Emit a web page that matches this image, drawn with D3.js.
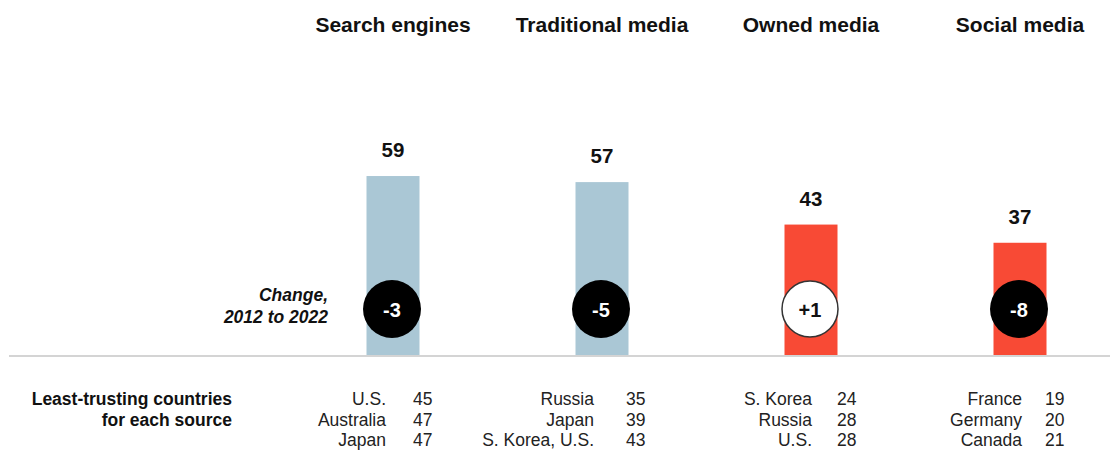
<!DOCTYPE html>
<html>
<head>
<meta charset="utf-8">
<script src="https://cdn.jsdelivr.net/npm/d3@7"></script>
<style>
  html, body { margin: 0; padding: 0; background: #fff; }
  svg { display: block; font-family: "Liberation Sans", Arial, sans-serif; }
</style>
</head>
<body>
<svg id="chart" width="1110" height="450"></svg>
<script>
// Trust by news source (share who trust, 2022) and change since 2012
const sources = ["Search engines", "Traditional media", "Owned media", "Social media"];
const trust2022 = [59, 57, 43, 37];
const change = [-3, -5, 1, -8];
const barGroup = ["high", "high", "low", "low"];

// Least-trusting countries for each source
const leastCountries = [
  ["U.S.", "Australia", "Japan"],
  ["Russia", "Japan", "S. Korea, U.S."],
  ["S. Korea", "Russia", "U.S."],
  ["France", "Germany", "Canada"]
];
const leastValues = [
  [45, 47, 47],
  [35, 39, 43],
  [24, 28, 28],
  [19, 20, 21]
];

// Layout: table column offsets relative to each bar centre
const layout = {
  nameShift: [-7, -8, 1, 2],
  numShift: [20, 24, 26, 25],
  rowY: [405, 425.5, 446]
};

const svg = d3.select("#chart");
const baseY = 355;

const x = d3.scalePoint().domain(sources).range([393, 1020]);
const y = d3.scaleLinear().domain([0, 60]).range([baseY, baseY - 182]);
const color = d3.scaleOrdinal().domain(["high", "low"]).range(["#aac7d5", "#f84a35"]);

const barW = 53;
const data = sources.map((s, i) => ({
  source: s, idx: i, value: trust2022[i], change: change[i], group: barGroup[i],
  countries: leastCountries[i], values: leastValues[i]
}));

// Column headers
svg.selectAll("text.header").data(data).join("text")
  .attr("class", "header")
  .attr("x", d => x(d.source))
  .attr("y", 32)
  .attr("text-anchor", "middle")
  .attr("font-size", 21)
  .attr("font-weight", "bold")
  .attr("fill", "#111")
  .text(d => d.source);

// Bars
svg.selectAll("rect.bar").data(data).join("rect")
  .attr("class", "bar")
  .attr("x", d => x(d.source) - barW / 2)
  .attr("width", barW)
  .attr("y", d => y(d.value))
  .attr("height", d => y(0) - y(d.value))
  .attr("fill", d => color(d.group));

// Value labels above bars
svg.selectAll("text.value").data(data).join("text")
  .attr("class", "value")
  .attr("x", d => x(d.source))
  .attr("y", d => y(d.value) - 19)
  .attr("text-anchor", "middle")
  .attr("font-size", 20.5)
  .attr("font-weight", "bold")
  .attr("fill", "#111")
  .text(d => d.value);

// Baseline
svg.append("line")
  .attr("x1", 9).attr("x2", 1110)
  .attr("y1", baseY + 1).attr("y2", baseY + 1)
  .attr("stroke", "#d4d4d4")
  .attr("stroke-width", 2);

// Change badges
const fmtChange = v => (v > 0 ? "+" : "") + v;
const badgeY = 309;
svg.selectAll("circle.badge").data(data).join("circle")
  .attr("class", "badge")
  .attr("cx", d => x(d.source) - 1)
  .attr("cy", badgeY)
  .attr("r", d => d.change > 0 ? 28 : 29)
  .attr("fill", d => d.change > 0 ? "#fff" : "#000")
  .attr("stroke", d => d.change > 0 ? "#333" : "none")
  .attr("stroke-width", 1.5);

svg.selectAll("text.badge").data(data).join("text")
  .attr("class", "badge")
  .attr("x", d => x(d.source) - 1)
  .attr("y", badgeY + 7.5)
  .attr("text-anchor", "middle")
  .attr("font-size", 20)
  .attr("font-weight", "bold")
  .attr("fill", d => d.change > 0 ? "#111" : "#fff")
  .text(d => fmtChange(d.change));

// Badge caption
const cap = svg.append("text")
  .attr("text-anchor", "end")
  .attr("font-size", 17.5)
  .attr("font-weight", "bold")
  .attr("font-style", "italic")
  .attr("fill", "#111");
cap.append("tspan").attr("x", 328).attr("y", 301).text("Change,");
cap.append("tspan").attr("x", 328).attr("y", 323).text("2012 to 2022");

// Least-trusting countries table
const rowY = layout.rowY;
const lbl = svg.append("text")
  .attr("text-anchor", "end")
  .attr("font-size", 17.5)
  .attr("font-weight", "bold")
  .attr("fill", "#111");
lbl.append("tspan").attr("x", 232).attr("y", rowY[0]).text("Least-trusting countries");
lbl.append("tspan").attr("x", 232).attr("y", rowY[1]).text("for each source");

const cols = svg.selectAll("g.col").data(data).join("g").attr("class", "col");
cols.selectAll("text.country").data(d => d.countries.map((c, j) => ({ c, j, d }))).join("text")
  .attr("class", "country")
  .attr("x", e => x(e.d.source) + layout.nameShift[e.d.idx])
  .attr("y", e => rowY[e.j])
  .attr("text-anchor", "end")
  .attr("font-size", 17.5)
  .attr("fill", "#222")
  .text(e => e.c);
cols.selectAll("text.num").data(d => d.values.map((v, j) => ({ v, j, d }))).join("text")
  .attr("class", "num")
  .attr("x", e => x(e.d.source) + layout.numShift[e.d.idx])
  .attr("y", e => rowY[e.j])
  .attr("text-anchor", "start")
  .attr("font-size", 17.5)
  .attr("fill", "#222")
  .text(e => e.v);
</script>
</body>
</html>
